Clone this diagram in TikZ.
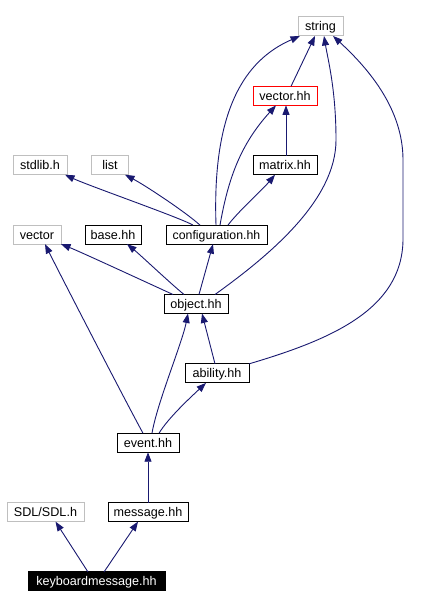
\documentclass[tikz,border=0pt]{standalone}
\usepackage{fontspec}
\setmainfont{Liberation Sans}
\usetikzlibrary{positioning,arrows.meta}

\definecolor{edgeblue}{HTML}{191970}
\definecolor{extgray}{HTML}{BFBFBF}

\tikzset{
  file/.style={draw=black, line width=1pt, inner sep=0pt, outer sep=0pt,
    minimum height=19pt, text height=10pt, text depth=1pt,
    font=\fontsize{12.6}{14}\selectfont},
  extfile/.style={file, draw=extgray},
  curfile/.style={file, draw=red},
  rootfile/.style={file, fill=black, text=white},
  dep/.style={draw=edgeblue, line width=0.9pt, -{Triangle[length=9.5pt,width=7pt]}}
}

\begin{document}
\begin{tikzpicture}[x=1pt, y=1pt, node distance=50.375pt]
  \useasboundingbox (0,0) rectangle (424,609);

  % Define nodes
  \node[rootfile, minimum width=137pt] (kbd) at (96.5,27.5) {keyboardmessage.hh};
  \node[file, minimum width=80pt, above=of kbd, xshift=51.5pt] (message) {message.hh};
  \node[extfile, minimum width=77pt, above=of kbd, xshift=-51pt] (sdl) {SDL/SDL.h};
  \node[file, minimum width=62pt, above=of message] (event) {event.hh};
  \node[file, minimum width=64pt, above=of event, xshift=69pt] (ability) {ability.hh};
  \node[file, minimum width=64pt, above=of ability, xshift=-21pt] (object) {object.hh};
  \node[file, minimum width=101pt, above=of object, xshift=20.5pt,
    font=\fontsize{12.3}{14}\selectfont] (config) {configuration.hh};
  \node[file, minimum width=56pt, above=of object, xshift=-83pt] (base) {base.hh};
  \node[extfile, minimum width=48pt, above=of object, xshift=-159pt] (vector) {vector};
  \node[file, minimum width=64pt, above=of config, xshift=68.5pt] (matrix) {matrix.hh};
  \node[extfile, minimum width=54pt, above=of config, xshift=-176.5pt] (stdlib) {stdlib.h};
  \node[extfile, minimum width=37pt, above=of config, xshift=-106.5pt] (list) {list};
  \node[curfile, minimum width=64pt, above=of matrix] (vectorhh) {vector.hh};
  \node[extfile, minimum width=45pt, above=of vectorhh, xshift=35.5pt] (string) {string};

  % Connect the nodes
  \draw[dep] ([xshift=-8.5pt]kbd.north) -- ([xshift=10pt]sdl.south);
  \draw[dep] ([xshift=7.5pt]kbd.north) -- ([xshift=-10pt]message.south);
  \draw[dep] (message) -- (event);

  \draw[dep] ([xshift=-5pt]event.north) .. controls +(-18,33) and +(17,-34) .. ([xshift=8pt]vector.south);
  \draw[dep] ([xshift=4pt]event.north) .. controls +(5,30) and +(-6,-30) .. ([xshift=-8pt]object.south);
  \draw[dep] ([xshift=11pt]event.north) .. controls +(9,15) and +(-16,-15) .. ([xshift=-11pt]ability.south);

  \draw[dep] ([xshift=-2pt]ability.north) -- ([xshift=6pt]object.south);
  \draw[dep] (ability.north east) .. controls +(81,24) and +(-1,-70) .. (403,369)
    -- (403,449) .. controls +(0,50) and +(37,-34) .. ([xshift=12.5pt]string.south);

  \draw[dep] ([xshift=19pt]object.north) .. controls +(55,39.5) and +(0,-60) .. (336,469)
    .. controls +(0,50) and +(4,-24) .. ([xshift=3.5pt]string.south);
  \draw[dep] ([xshift=-23pt]object.north) .. controls +(-23,10.5) and +(19,-7.5) .. ([xshift=24pt]vector.south);
  \draw[dep] ([xshift=-12pt]object.north) .. controls +(-14,11.5) and +(13,-10.5) .. ([xshift=14pt]base.south);
  \draw[dep] ([xshift=3pt]object.north) -- ([xshift=-3.5pt]config.south);

  \draw[dep] ([xshift=-0.5pt]config.north) .. controls +(-4,115.5) and +(-55,-24) .. ([xshift=-20.5pt]string.south);
  \draw[dep] ([xshift=3.5pt]config.north) .. controls +(8,45.5) and +(-36,-39.5) .. ([xshift=-9pt]vectorhh.south);
  \draw[dep] ([xshift=11.5pt]config.north) .. controls +(10,13.5) and +(-13,-15.5) .. ([xshift=-10pt]matrix.south);
  \draw[dep] ([xshift=-23.5pt]config.north) .. controls +(-13,7.5) and +(25,-11.5) .. ([xshift=25pt]stdlib.south);
  \draw[dep] ([xshift=-16.5pt]config.north) .. controls +(-15,13.5) and +(20,-10.5) .. ([xshift=15pt]list.south);

  \draw[dep] ([xshift=6pt]vectorhh.north) -- ([xshift=-5.5pt]string.south);
  \draw[dep] ([xshift=1pt]matrix.north) -- ([xshift=1pt]vectorhh.south);

\end{tikzpicture}
\end{document}
